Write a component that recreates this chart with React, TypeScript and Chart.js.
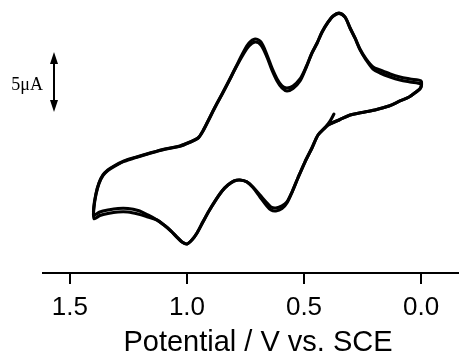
import React, { useEffect, useRef } from "react";
import { Chart, registerables } from "chart.js";

Chart.register(...registerables);

// Potential (V vs. SCE) for one sweep: 0.37 V -> 1.40 V -> 0.00 V -> 0.42 V
const potentialForward = [
  0.372, 0.390, 0.410, 0.440, 0.466, 0.496, 0.526, 0.551, 0.573, 0.594,
  0.620, 0.641, 0.662, 0.688, 0.718, 0.744, 0.774, 0.799, 0.825, 0.850,
  0.880, 0.906, 0.932, 0.957, 0.979, 1.000, 1.021, 1.043, 1.068, 1.098,
  1.128, 1.167, 1.209, 1.252, 1.295, 1.338, 1.372, 1.397,
];
const potentialReverse = [
  1.398, 1.389, 1.376, 1.359, 1.338, 1.312, 1.269, 1.222, 1.158, 1.094,
  1.030, 0.987, 0.953, 0.932, 0.910, 0.880, 0.850, 0.821, 0.791, 0.761,
  0.735, 0.709, 0.684, 0.658, 0.637, 0.615, 0.594, 0.573, 0.547, 0.517,
  0.491, 0.466, 0.444, 0.423, 0.397, 0.376, 0.350, 0.325, 0.303, 0.282,
  0.261, 0.235, 0.205, 0.175, 0.132, 0.090, 0.047, 0.000,
];
const potentialReturn = [
  0.002, 0.021, 0.051, 0.090, 0.137, 0.197, 0.252, 0.303, 0.350, 0.389, 0.423,
];

// Current (µA), cycle 1
const cycle1Forward = [
  3.83, 3.20, 2.70, 2.08, 1.00, -0.17, -1.50, -2.67, -3.50, -3.83,
  -4.00, -3.92, -3.50, -2.92, -2.25, -1.83, -1.67, -1.75, -2.08, -2.58,
  -3.42, -4.25, -5.17, -6.08, -6.67, -7.00, -6.83, -6.42, -5.92, -5.42,
  -5.00, -4.58, -4.21, -4.04, -4.04, -4.17, -4.33, -4.58,
];
const cycle1Reverse = [
  -3.90, -2.83, -1.92, -1.25, -0.83, -0.50, -0.08, 0.21, 0.58, 0.92,
  1.17, 1.50, 1.83, 2.42, 3.25, 4.42, 5.50, 6.58, 7.75, 8.92,
  9.75, 10.08, 9.83, 8.75, 7.67, 6.75, 6.17, 6.00, 6.17, 6.75,
  7.75, 8.92, 9.75, 10.67, 11.50, 12.00, 12.25, 11.92, 11.00, 10.17,
  9.25, 8.42, 7.75, 7.50, 7.17, 6.92, 6.75, 6.58,
];
const cycle1Return = [6.00, 5.67, 5.25, 4.92, 4.50, 4.17, 3.95, 3.75, 3.33, 3.00, 2.45];

// Current (µA), cycle 2
const cycle2Forward = [
  null, null, 2.70, 2.08, 1.00, -0.17, -1.50, -2.67, -3.58, -4.05,
  -4.25, -4.17, -3.75, -3.08, -2.30, -1.83, -1.67, -1.75, -2.08, -2.58,
  -3.42, -4.25, -5.17, -6.08, -6.67, -7.00, -6.83, -6.42, -5.92, -5.42,
  -5.00, -4.75, -4.50, -4.33, -4.33, -4.46, -4.63, -4.88,
];
const cycle2Reverse = [
  -4.10, -2.90, -1.97, -1.30, -0.88, -0.55, -0.12, 0.18, 0.56, 0.90,
  1.15, 1.48, 1.81, 2.40, 3.23, 4.40, 5.48, 6.56, 7.70, 8.75,
  9.50, 9.83, 9.58, 8.58, 7.50, 6.58, 6.00, 5.75, 5.96, 6.58,
  7.70, 8.90, 9.73, 10.65, 11.48, 11.98, 12.22, 11.90, 10.98, 10.15,
  9.20, 8.35, 7.58, 7.25, 6.92, 6.67, 6.50, 6.33,
];
const cycle2Return = [6.00, 5.67, 5.25, 4.92, 4.50, 4.17, 3.95, 3.75, 3.33, 3.00];

const xTickValues = [0.0, 0.5, 1.0, 1.5];
const xTitle = "Potential / V vs. SCE";
const xMin = -0.222;
const xMax = 1.615;
const yMin = -9.417;
const yMax = 13.333;

const scaleBarLabel = "5μA";
const scaleBarSpan = 5; // µA
const scaleBarPotential = 1.568;
const scaleBarTop = 9.0;

function toPoints(pots: number[], cur: (number | null)[]) {
  return cur.map((c, i) => ({ x: pots[i], y: c }));
}

const scaleBarPlugin = {
  id: "scaleBar",
  afterDraw(chart: any) {
    const { ctx, scales } = chart;
    const xs = scales.x;
    const ys = scales.y;
    const px = xs.getPixelForValue(scaleBarPotential);
    const yTop = ys.getPixelForValue(scaleBarTop);
    const yBot = ys.getPixelForValue(scaleBarTop - scaleBarSpan);
    const head = 12;
    const half = 4;
    ctx.save();
    ctx.strokeStyle = "#000";
    ctx.fillStyle = "#000";
    ctx.lineWidth = 2;
    ctx.beginPath();
    ctx.moveTo(px, yTop + head - 2);
    ctx.lineTo(px, yBot - head + 2);
    ctx.stroke();
    ctx.beginPath();
    ctx.moveTo(px, yTop);
    ctx.lineTo(px - half, yTop + head);
    ctx.lineTo(px + half, yTop + head);
    ctx.closePath();
    ctx.fill();
    ctx.beginPath();
    ctx.moveTo(px, yBot);
    ctx.lineTo(px - half, yBot - head);
    ctx.lineTo(px + half, yBot - head);
    ctx.closePath();
    ctx.fill();
    ctx.font = '18px "Liberation Serif", "Times New Roman", serif';
    ctx.textAlign = "right";
    ctx.textBaseline = "alphabetic";
    ctx.fillText(scaleBarLabel, px - 11, (yTop + yBot) / 2 + 8);
    ctx.restore();
  },
};

export default function App() {
  const ref = useRef<HTMLCanvasElement | null>(null);

  useEffect(() => {
    const canvas = ref.current;
    if (!canvas) return;
    const c1 = [
      ...toPoints(potentialForward, cycle1Forward),
      ...toPoints(potentialReverse, cycle1Reverse),
      ...toPoints(potentialReturn, cycle1Return),
    ];
    const c2 = [
      ...toPoints(potentialForward, cycle2Forward),
      ...toPoints(potentialReverse, cycle2Reverse),
      ...toPoints(potentialReturn.slice(0, cycle2Return.length), cycle2Return),
    ];
    const common = {
      showLine: true,
      borderColor: "#000",
      borderWidth: 3.1,
      pointRadius: 0,
      tension: 0.3,
      borderJoinStyle: "round" as const,
      borderCapStyle: "round" as const,
      spanGaps: false,
    };
    const chart = new Chart(canvas, {
      type: "scatter",
      data: {
        datasets: [
          { ...common, label: "cycle 1", data: c1 },
          { ...common, label: "cycle 2", data: c2 },
        ],
      },
      plugins: [scaleBarPlugin],
      options: {
        animation: false,
        responsive: false,
        devicePixelRatio: 1,
        layout: { padding: { left: 43, right: 0, top: 0, bottom: 0 } },
        plugins: {
          legend: { display: false },
          tooltip: { enabled: false },
        },
        scales: {
          x: {
            type: "linear",
            reverse: true,
            min: xMin,
            max: xMax,
            afterBuildTicks: (scale: any) => {
              scale.ticks = xTickValues.map((v) => ({ value: v }));
            },
            afterFit: (scale: any) => {
              scale.height = 87;
            },
            border: { display: true, color: "#000", width: 2 },
            grid: {
              display: true,
              drawOnChartArea: false,
              drawTicks: true,
              tickLength: 11,
              color: "#000",
              lineWidth: 2,
            },
            ticks: {
              color: "#000",
              padding: 8,
              font: { family: '"Liberation Sans", Arial, sans-serif', size: 26 },
              callback: (v: any) => Number(v).toFixed(1),
              maxRotation: 0,
              autoSkip: false,
            },
            title: {
              display: true,
              text: xTitle,
              color: "#000",
              font: { family: '"Liberation Sans", Arial, sans-serif', size: 29 },
              padding: { top: 3, bottom: 0 },
            },
          },
          y: {
            type: "linear",
            display: false,
            min: yMin,
            max: yMax,
          },
        },
      },
    });
    return () => chart.destroy();
  }, []);

  return (
    <div
      style={{
        position: "absolute",
        left: 0,
        top: 0,
        width: 459,
        height: 356,
        overflow: "hidden",
        background: "#fff",
      }}
    >
      <canvas ref={ref} width={473} height={360} style={{ display: "block" }} />
    </div>
  );
}
